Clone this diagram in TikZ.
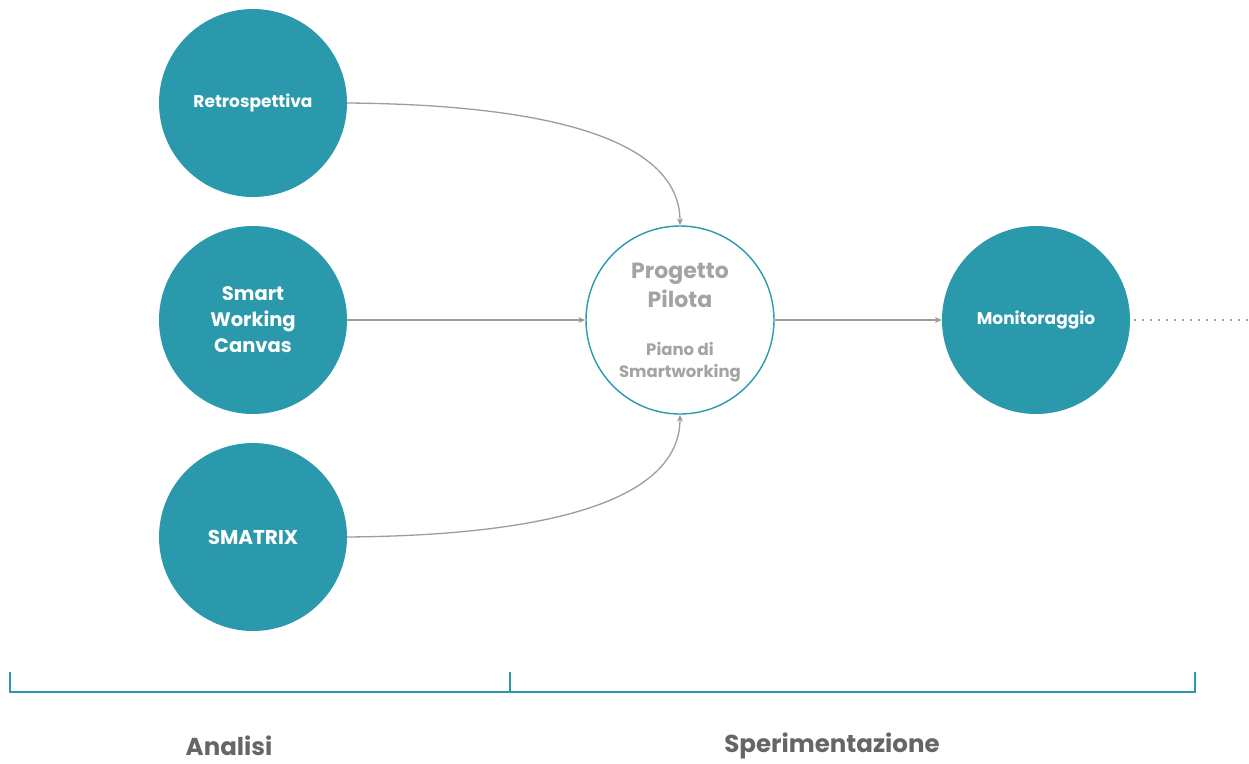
\documentclass[tikz,border=0pt]{standalone}
\usepackage{fontspec}
\setmainfont{Poppins}
\usetikzlibrary{arrows.meta}
\definecolor{teal1}{HTML}{2A99AC}
\definecolor{arrgray}{HTML}{9C9C9C}
\definecolor{txtgray}{HTML}{A3A3A3}
\definecolor{labgray}{HTML}{666666}
\tikzset{
  fullc/.style={circle,fill=teal1,minimum size=188pt,inner sep=0pt,text=white,font=\bfseries,align=center},
  openc/.style={circle,draw=teal1,line width=1.4pt,minimum size=188pt,inner sep=0pt,text=txtgray,align=center},
  conn/.style={draw=arrgray,line width=1.3pt,-{Stealth[length=7pt,width=6pt]}},
  brk/.style={draw=teal1,line width=1.5pt},
  phase/.style={text=labgray,font=\bfseries\fontsize{24.5}{28}\selectfont}
}
\begin{document}
\begin{tikzpicture}[x=1pt,y=-1pt]
\useasboundingbox (0,0) rectangle (1249,763);
\node[fullc,font=\bfseries\fontsize{17}{20}\selectfont] (retro) at (253,103) {Retrospettiva};
\node[fullc,font=\bfseries\fontsize{19.5}{26}\selectfont] (swc) at (253,320) {Smart\\Working\\Canvas};
\node[fullc,font=\bfseries\fontsize{20}{24}\selectfont] (smatrix) at (253,537) {SMATRIX};
\node[openc] (pilota) at (680,320) {};
\node[text=txtgray,font=\bfseries\fontsize{22}{29}\selectfont,align=center] (pt) at (680,285) {Progetto\\Pilota};
\node[text=txtgray,font=\bfseries\fontsize{16.5}{22}\selectfont,align=center] (ps) at (680,362) {Piano di\\Smartworking};
\node[fullc,font=\bfseries\fontsize{17}{20}\selectfont] (mon) at (1036,320) {Monitoraggio};
\coordinate (dotend) at (1249,320);
\draw[conn] (retro.east) .. controls (580,105) and (680,150) .. (pilota.north);
\draw[conn] (swc.east) -- (pilota.west);
\draw[conn] (smatrix.east) .. controls (580,535) and (680,490) .. (pilota.south);
\draw[conn] (pilota.east) -- (mon.west);
\draw[draw=arrgray,line width=1.3pt,dash pattern=on 1.3pt off 6.7pt] ([xshift=4pt]mon.east) -- (dotend);
\coordinate (b0) at (10,672);
\coordinate (b1) at (510,672);
\coordinate (b2) at (1195,672);
\draw[brk] (b0) -- ++(0,20) -| (b2);
\draw[brk] (b1) -- ++(0,20);
\node[phase] (an) at (229,746) {Analisi};
\node[phase] (sp) at (832,746) {Sperimentazione};
\end{tikzpicture}
\end{document}
